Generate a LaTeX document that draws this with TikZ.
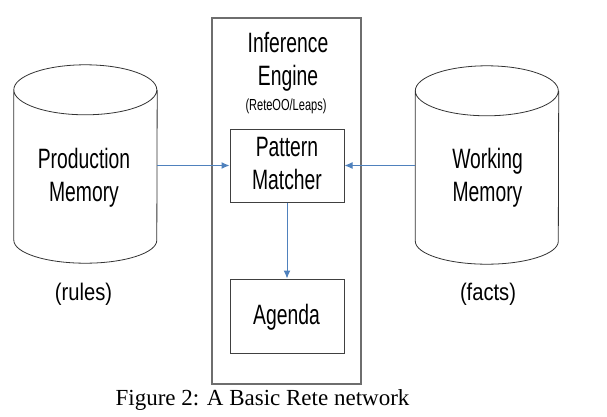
\documentclass[tikz,border=0pt]{standalone}
\usepackage{fontspec}
\setmainfont{Liberation Serif}
\newfontfamily\narrowfont[FakeStretch=0.69]{Liberation Sans}
\newfontfamily\labelfont[FakeStretch=0.84]{Liberation Sans}
\usetikzlibrary{arrows.meta}
\definecolor{flowblue}{RGB}{79,129,189}
\definecolor{boxgray}{RGB}{110,110,110}
\tikzset{
  cylbody/.style = {minimum width=143pt, minimum height=198pt, inner sep=0pt},
  cylline/.style = {draw=black!80, line width=0.8pt},
  bigtext/.style = {font=\narrowfont\fontsize{28}{33}\selectfont, align=center, inner sep=0pt},
  smalltext/.style = {font=\narrowfont\fontsize{16}{18}\selectfont, inner sep=0pt},
  tagtext/.style = {font=\labelfont\fontsize{24}{28}\selectfont, inner sep=0pt},
  enginebox/.style = {draw=boxgray, line width=1.4pt, minimum width=149pt, minimum height=366pt},
  partbox/.style = {draw=black!75, line width=1pt, minimum width=114pt, inner sep=0pt},
  flow/.style = {draw=flowblue, line width=1pt, -{Latex[length=8pt,width=7pt]}}
}
% cylinder outline round a body node
\newcommand{\cylinderoutline}[1]{%
  \draw[cylline] ([yshift=-25pt]#1.north west)
    arc[start angle=180, end angle=-180, x radius=71.5pt, y radius=25pt]
    -- ([yshift=23pt]#1.south west)
    arc[start angle=180, end angle=360, x radius=71.5pt, y radius=23pt]
    -- ([yshift=-25pt]#1.north east);}
\begin{document}
\begin{tikzpicture}[x=1pt, y=-1pt]
\useasboundingbox (0,0) rectangle (607,417);
% Inference engine
\node[enginebox] (engine) at (286.5,201) {};
\node[bigtext] (enginetitle) at (288,62) {Inference\\Engine};
\node[smalltext] (algo) at (286,106) {(ReteOO/Leaps)};
\node[partbox, minimum height=73pt] (matcher) at (287,165.5) {};
\node[bigtext] (matchertext) at (287,163.5) {Pattern\\Matcher};
\node[partbox, minimum height=74pt] (agenda) at (287,316) {};
\node[bigtext] (agendatext) at (286.5,317) {Agenda};
% Memories
\node[cylbody] (prodmem) at (85.5,164) {};
\cylinderoutline{prodmem}
\node[bigtext] (prodmemtext) at (84,178) {Production\\Memory};
\node[tagtext] (rules) at (83.5,294.5) {(rules)};
\node[cylbody] (workmem) at (487,165) {};
\cylinderoutline{workmem}
\node[bigtext] (workmemtext) at (487.5,178) {Working\\Memory};
\node[tagtext] (facts) at (488,294.5) {(facts)};
% Connectors
\draw[flow] (prodmem.east |- matcher.west) -- (matcher.west);
\draw[flow] (workmem.west |- matcher.east) -- (matcher.east);
\draw[flow] (matcher.south) -- (agenda.north);
% Caption
\node[font=\fontsize{23}{26}\selectfont, inner sep=0pt] (caption) at (262.5,399.6) {Figure 2: A Basic Rete network};
\end{tikzpicture}
\end{document}
